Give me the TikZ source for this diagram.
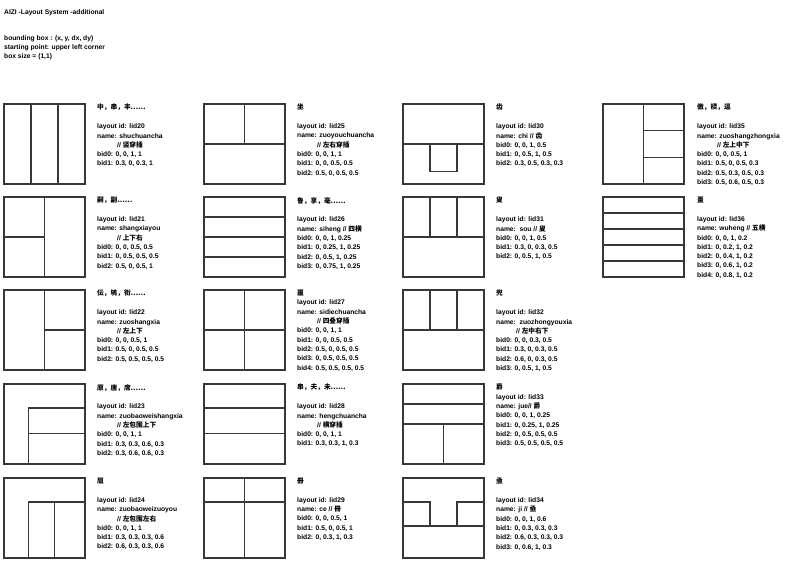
\documentclass[tikz,border=0pt]{standalone}
\usepackage{fontspec}
\setmainfont{Liberation Sans}
\newfontfamily\cjk{Noto Sans CJK SC}

\tikzset{
  cell/.style={draw=black!78, line width=1.3pt},
  info/.style={anchor=north west, inner sep=0pt, align=left,
    font=\bfseries\fontsize{6.7}{9.3}\selectfont},
}
\newcommand{\zh}[1]{{\cjk #1}}
\newcommand{\cmt}[1]{\hspace*{20pt}// \zh{#1}}

\begin{document}
\begin{tikzpicture}[x=1pt,y=-1pt]
    \useasboundingbox (0,0) rectangle (795,565);

    % Header
    \node[info] (head) at (4,9.5) {AIZI -Layout System -additional};
    \node[info] (notes) at (4,35) {bounding box : (x, y, dx, dy)\\starting point: upper left corner\\box size = (1,1)};

    % ---------- row 1 ----------
    % lid20
    \begin{scope}[shift={(4,104)}, x=81pt, y=-80pt]
        \draw[cell] (0,0) rectangle (1,1);
        \draw[cell] (1/3,0) -- (1/3,1) (2/3,0) -- (2/3,1);
    \end{scope}
    \node[info] (lid20) at (97,104) {\zh{中，串，丰……}\\[9.5pt]layout id: lid20\\name: shuchuancha\\\cmt{竖穿插}\\bid0: 0, 0, 1, 1\\bid1: 0.3, 0, 0.3, 1};

    % lid25
    \begin{scope}[shift={(204,104)}, x=81pt, y=-80pt]
        \draw[cell] (0,0) rectangle (1,1);
        \draw[cell] (0,0.5) -- (1,0.5) (0.5,0) -- (0.5,0.5);
    \end{scope}
    \node[info] (lid25) at (297,104) {\zh{坐}\\[9.5pt]layout id: lid25\\name: zuoyouchuancha\\\cmt{左右穿插}\\bid0: 0, 0, 1, 1\\bid1: 0, 0, 0.5, 0.5\\bid2: 0.5, 0, 0.5, 0.5};

    % lid30
    \begin{scope}[shift={(403,104)}, x=81pt, y=-80pt]
        \draw[cell] (0,0) rectangle (1,1);
        \draw[cell] (0,0.5) -- (1,0.5);
        \draw[cell] (1/3,0.5) rectangle (2/3,0.84);
    \end{scope}
    \node[info] (lid30) at (496,104) {\zh{齿}\\[9.5pt]layout id: lid30\\name: chi // \zh{齿}\\bid0: 0, 0, 1, 0.5\\bid1: 0, 0.5, 1, 0.5\\bid2: 0.3, 0.5, 0.3, 0.3};

    % lid35
    \begin{scope}[shift={(603,104)}, x=81pt, y=-80pt]
        \draw[cell] (0,0) rectangle (1,1);
        \draw[cell] (0.5,0) -- (0.5,1) (0.5,1/3) -- (1,1/3) (0.5,2/3) -- (1,2/3);
    \end{scope}
    \node[info] (lid35) at (697,104) {\zh{傲，棂，逗}\\[9.5pt]layout id: lid35\\name: zuoshangzhongxia\\\cmt{左上中下}\\bid0: 0, 0, 0.5, 1\\bid1: 0.5, 0, 0.5, 0.3\\bid2: 0.5, 0.3, 0.5, 0.3\\bid3: 0.5, 0.6, 0.5, 0.3};

    % ---------- row 2 ----------
    % lid21
    \begin{scope}[shift={(4,197)}, x=81pt, y=-80pt]
        \draw[cell] (0,0) rectangle (1,1);
        \draw[cell] (0.5,0) -- (0.5,1) (0,0.5) -- (0.5,0.5);
    \end{scope}
    \node[info] (lid21) at (97,197) {\zh{嗣，副……}\\[9.5pt]layout id: lid21\\name: shangxiayou\\\cmt{上下右}\\bid0: 0, 0, 0.5, 0.5\\bid1: 0, 0.5, 0.5, 0.5\\bid2: 0.5, 0, 0.5, 1};

    % lid26
    \begin{scope}[shift={(204,197)}, x=81pt, y=-80pt]
        \draw[cell] (0,0) rectangle (1,1);
        \draw[cell] (0,0.25) -- (1,0.25) (0,0.5) -- (1,0.5) (0,0.75) -- (1,0.75);
    \end{scope}
    \node[info] (lid26) at (297,197) {\zh{鲁，享，毫……}\\[9.5pt]layout id: lid26\\name: siheng // \zh{四横}\\bid0: 0, 0, 1, 0.25\\bid1: 0, 0.25, 1, 0.25\\bid2: 0, 0.5, 1, 0.25\\bid3: 0, 0.75, 1, 0.25};

    % lid31
    \begin{scope}[shift={(403,197)}, x=81pt, y=-80pt]
        \draw[cell] (0,0) rectangle (1,1);
        \draw[cell] (0,0.5) -- (1,0.5) (1/3,0) -- (1/3,0.5) (2/3,0) -- (2/3,0.5);
    \end{scope}
    \node[info] (lid31) at (496,197) {\zh{叟}\\[9.5pt]layout id: lid31\\name:\ \ sou // \zh{叟}\\bid0: 0, 0, 1, 0.5\\bid1: 0.3, 0, 0.3, 0.5\\bid2: 0, 0.5, 1, 0.5};

    % lid36
    \begin{scope}[shift={(603,197)}, x=81pt, y=-80pt]
        \draw[cell] (0,0) rectangle (1,1);
        \foreach \h in {0.2,0.4,0.6,0.8}
            \draw[cell] (0,\h) -- (1,\h);
    \end{scope}
    \node[info] (lid36) at (697,197) {\zh{畺}\\[9.5pt]layout id: lid36\\name: wuheng // \zh{五横}\\bid0: 0, 0, 1, 0.2\\bid1: 0, 0.2, 1, 0.2\\bid2: 0, 0.4, 1, 0.2\\bid3: 0, 0.6, 1, 0.2\\bid4: 0, 0.8, 1, 0.2};

    % ---------- row 3 ----------
    % lid22
    \begin{scope}[shift={(4,290)}, x=81pt, y=-80pt]
        \draw[cell] (0,0) rectangle (1,1);
        \draw[cell] (0.5,0) -- (0.5,1) (0.5,0.5) -- (1,0.5);
    \end{scope}
    \node[info] (lid22) at (97,290) {\zh{伝，鸲，衔……}\\[9.5pt]layout id: lid22\\name: zuoshangxia\\\cmt{左上下}\\bid0: 0, 0, 0.5, 1\\bid1: 0.5, 0, 0.5, 0.5\\bid2: 0.5, 0.5, 0.5, 0.5};

    % lid27
    \begin{scope}[shift={(204,290)}, x=81pt, y=-80pt]
        \draw[cell] (0,0) rectangle (1,1);
        \draw[cell] (0.5,0) -- (0.5,1) (0,0.5) -- (1,0.5);
    \end{scope}
    \node[info] (lid27) at (297,290) {\zh{噩}\\layout id: lid27\\name: sidiechuancha\\\cmt{四叠穿插}\\bid0: 0, 0, 1, 1\\bid1: 0, 0, 0.5, 0.5\\bid2: 0.5, 0, 0.5, 0.5\\bid3: 0, 0.5, 0.5, 0.5\\bid4: 0.5, 0.5, 0.5, 0.5};

    % lid32
    \begin{scope}[shift={(403,290)}, x=81pt, y=-80pt]
        \draw[cell] (0,0) rectangle (1,1);
        \draw[cell] (0,0.5) -- (1,0.5) (1/3,0) -- (1/3,0.5) (2/3,0) -- (2/3,0.5);
    \end{scope}
    \node[info] (lid32) at (496,290) {\zh{兜}\\[9.5pt]layout id: lid32\\name:\ \ zuozhongyouxia\\\cmt{左中右下}\\bid0: 0, 0, 0.3, 0.5\\bid1: 0.3, 0, 0.3, 0.5\\bid2: 0.6, 0, 0.3, 0.5\\bid3: 0, 0.5, 1, 0.5};

    % ---------- row 4 ----------
    % lid23
    \begin{scope}[shift={(4,384)}, x=81pt, y=-80pt]
        \draw[cell] (0,0) rectangle (1,1);
        \draw[cell] (1,0.3) -- (0.3,0.3) -- (0.3,1) (0.3,0.62) -- (1,0.62);
    \end{scope}
    \node[info] (lid23) at (97,384) {\zh{原，唐，席……}\\[9.5pt]layout id: lid23\\name: zuobaoweishangxia\\\cmt{左包围上下}\\bid0: 0, 0, 1, 1\\bid1: 0.3, 0.3, 0.6, 0.3\\bid2: 0.3, 0.6, 0.6, 0.3};

    % lid28
    \begin{scope}[shift={(204,384)}, x=81pt, y=-80pt]
        \draw[cell] (0,0) rectangle (1,1);
        \draw[cell] (0,0.3) -- (1,0.3) (0,0.62) -- (1,0.62);
    \end{scope}
    \node[info] (lid28) at (297,384) {\zh{串，夫，未……}\\[9.5pt]layout id: lid28\\name: hengchuancha\\\cmt{横穿插}\\bid0: 0, 0, 1, 1\\bid1: 0.3, 0.3, 1, 0.3};

    % lid33
    \begin{scope}[shift={(403,384)}, x=81pt, y=-80pt]
        \draw[cell] (0,0) rectangle (1,1);
        \draw[cell] (0,0.25) -- (1,0.25) (0,0.5) -- (1,0.5) (0.5,0.5) -- (0.5,1);
    \end{scope}
    \node[info] (lid33) at (496,384) {\zh{爵}\\layout id: lid33\\name: jue// \zh{爵}\\bid0: 0, 0, 1, 0.25\\bid1: 0, 0.25, 1, 0.25\\bid2: 0, 0.5, 0.5, 0.5\\bid3: 0.5, 0.5, 0.5, 0.5};

    % ---------- row 5 ----------
    % lid24
    \begin{scope}[shift={(4,478)}, x=81pt, y=-80pt]
        \draw[cell] (0,0) rectangle (1,1);
        \draw[cell] (1,0.3) -- (0.3,0.3) -- (0.3,1) (0.62,0.3) -- (0.62,1);
    \end{scope}
    \node[info] (lid24) at (97,478) {\zh{屈}\\[9.5pt]layout id: lid24\\name: zuobaoweizuoyou\\\cmt{左包围左右}\\bid0: 0, 0, 1, 1\\bid1: 0.3, 0.3, 0.3, 0.6\\bid2: 0.6, 0.3, 0.3, 0.6};

    % lid29
    \begin{scope}[shift={(204,478)}, x=81pt, y=-80pt]
        \draw[cell] (0,0) rectangle (1,1);
        \draw[cell] (0.5,0) -- (0.5,1) (0,0.3) -- (1,0.3);
    \end{scope}
    \node[info] (lid29) at (297,478) {\zh{冊}\\[9.5pt]layout id: lid29\\name: ce // \zh{冊}\\bid0: 0, 0, 0.5, 1\\bid1: 0.5, 0, 0.5, 1\\bid2: 0, 0.3, 1, 0.3};

    % lid34
    \begin{scope}[shift={(403,478)}, x=81pt, y=-80pt]
        \draw[cell] (0,0) rectangle (1,1);
        \draw[cell] (0,0.3) -- (1/3,0.3) -- (1/3,0.6) (1,0.3) -- (2/3,0.3) -- (2/3,0.6) (0,0.6) -- (1,0.6);
    \end{scope}
    \node[info] (lid34) at (496,478) {\zh{亟}\\[9.5pt]layout id: lid34\\name: ji // \zh{亟}\\bid0: 0, 0, 1, 0.6\\bid1: 0, 0.3, 0.3, 0.3\\bid2: 0.6, 0.3, 0.3, 0.3\\bid3: 0, 0.6, 1, 0.3};
\end{tikzpicture}
\end{document}
